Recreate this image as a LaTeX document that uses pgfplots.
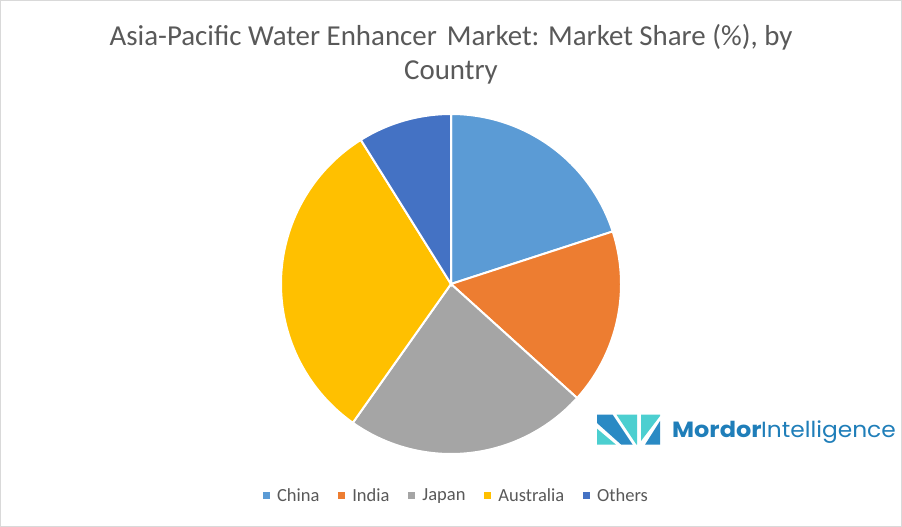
\documentclass[border=0pt]{standalone}
\usepackage{pgfplots}
\pgfplotsset{compat=1.18}
\usepackage{pgfplotstable}
\usepackage{fontspec}
\setmainfont{Carlito}
\newfontfamily\logofont{Poppins}
\definecolor{cChina}{HTML}{5B9BD5}
\definecolor{cIndia}{HTML}{ED7D31}
\definecolor{cJapan}{HTML}{A5A5A5}
\definecolor{cAustralia}{HTML}{FFC000}
\definecolor{cOthers}{HTML}{4472C4}
\definecolor{cText}{HTML}{595959}
\definecolor{cBorder}{HTML}{D9D9D9}
\definecolor{cLogo}{HTML}{1F7EB9}
\definecolor{cLogoDark}{HTML}{2A8AC4}
\definecolor{cLogoTeal}{HTML}{4CCFD0}

\pgfplotstableread{
country share
China 20.0
India 16.7
Japan 23.1
Australia 31.3
Others 8.9
}\sharetable

\newcommand\getshare[2]{\pgfplotstablegetelem{#1}{share}\of\sharetable\edef#2{\pgfplotsretval}}
\getshare{0}\sA
\getshare{1}\sB
\getshare{2}\sC
\getshare{3}\sD
\getshare{4}\sE
\pgfmathsetmacro\eA{90}
\pgfmathsetmacro\bA{\eA-3.6*\sA}
\pgfmathsetmacro\eB{\bA}
\pgfmathsetmacro\bB{\eB-3.6*\sB}
\pgfmathsetmacro\eC{\bB}
\pgfmathsetmacro\bC{\eC-3.6*\sC}
\pgfmathsetmacro\eD{\bC}
\pgfmathsetmacro\bD{\eD-3.6*\sD}
\pgfmathsetmacro\eE{\bD}
\pgfmathsetmacro\bE{\eE-3.6*\sE}

\begin{document}
\begin{tikzpicture}
\useasboundingbox (0,0) rectangle (902bp,527bp);
\fill[white] (0,0) rectangle (902bp,527bp);
\draw[cBorder, line width=1.3bp] (0.65bp,0.65bp) rectangle (901.35bp,526.35bp);

\begin{axis}[
  at={(451bp,243bp)}, anchor=center,
  x=170bp, y=170bp,
  xmin=-1, xmax=1, ymin=-1, ymax=1,
  hide axis, clip=false,
  slice/.style={draw=white, line width=2bp, samples=120, variable=\t},
  legend columns=5,
  legend style={
    at={(-0.0538,-0.1226)}, anchor=west,
    draw=none, fill=none, inner sep=0pt,
    font=\fontsize{18.5bp}{22bp}\selectfont, text=cText,
    nodes={inner sep=0pt},
    /tikz/every odd column/.append style={column sep=7.4bp},
    /tikz/every even column/.append style={column sep=18.8bp},
  },
  legend image code/.code={\path[#1,draw=none] (0bp,-3.35bp) rectangle (6.7bp,3.35bp);},
]
\addplot[slice, fill=cChina, domain=\bA:\eA] ({cos(\t)},{sin(\t)}) -- (0,0) -- cycle;
\addlegendentry{China}
\addplot[slice, fill=cIndia, domain=\bB:\eB] ({cos(\t)},{sin(\t)}) -- (0,0) -- cycle;
\addlegendentry{India}
\addplot[slice, fill=cJapan, domain=\bC:\eC] ({cos(\t)},{sin(\t)}) -- (0,0) -- cycle;
\addlegendentry{Japan}
\addplot[slice, fill=cAustralia, domain=\bD:\eD] ({cos(\t)},{sin(\t)}) -- (0,0) -- cycle;
\addlegendentry{Australia}
\addplot[slice, fill=cOthers, domain=\bE:\eE] ({cos(\t)},{sin(\t)}) -- (0,0) -- cycle;
\addlegendentry{Others}
\end{axis}

% title
\node[anchor=base, inner sep=0pt, text=cText, font=\fontsize{28.9bp}{34bp}\selectfont] at (451bp,481bp) {Asia-Pacific Water Enhancer\hspace{0.12em} Market: Market Share (\%), by};
\node[anchor=base, inner sep=0pt, text=cText, font=\fontsize{28.9bp}{34bp}\selectfont] at (451bp,447bp) {Country};

% logo
\begin{scope}[yscale=-1, yshift=-527bp]
\fill[cLogoTeal] (597bp,428.7bp) -- (597bp,444.7bp) -- (616bp,444.7bp) -- cycle;
\fill[cLogoDark] (597bp,414.7bp) -- (612.7bp,414.7bp) -- (632.7bp,444.7bp) -- (621.3bp,444.7bp) -- (597bp,423bp) -- cycle;
\fill[cLogoTeal] (616.5bp,414.7bp) -- (637bp,414.7bp) -- (637bp,444.7bp) -- (636.5bp,444.7bp) -- cycle;
\fill[cLogoTeal] (641bp,414.7bp) -- (660bp,414.7bp) -- (660bp,416bp) -- (641bp,441bp) -- cycle;
\fill[cLogoDark] (645bp,444.7bp) -- (660bp,421bp) -- (660bp,444.7bp) -- cycle;
\end{scope}
\node[anchor=base west, inner sep=0pt, text=cLogo, font=\logofont\bfseries\fontsize{22bp}{26bp}\selectfont] at (672bp,89.7bp) {\scalebox{1.09}[1]{Mordor}};
\node[anchor=base west, inner sep=0pt, text=cLogo, font=\logofont\fontsize{22bp}{26bp}\selectfont] at (761bp,89.7bp) {\scalebox{1.06}[1]{Intelligence}};
\end{tikzpicture}
\end{document}
